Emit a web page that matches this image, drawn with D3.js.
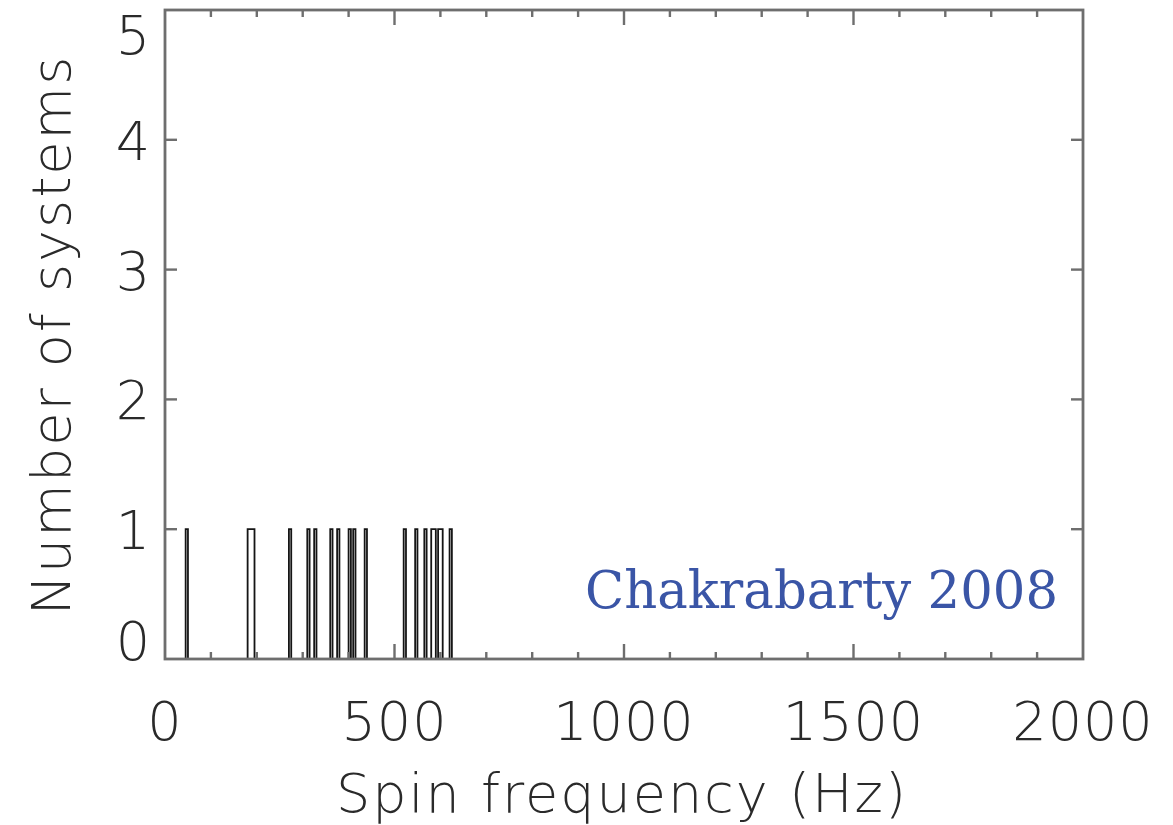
<!DOCTYPE html>
<html>
<head>
<meta charset="utf-8">
<script src="https://cdn.jsdelivr.net/npm/d3@7"></script>
<style>
  html, body { margin: 0; padding: 0; background: #fff; }
  svg { display: block; }
</style>
</head>
<body>
<svg id="chart" width="1173" height="825"></svg>
<script>
// Spin frequencies (Hz) of the known accreting neutron stars, one entry per system
const spinFreqs = [45, 182, 185, 191, 270, 314, 329, 363, 377, 401, 410, 435,
                   520, 549, 567, 581, 589, 598, 601, 620];
const binWidth = 5;
const xTicks = [0, 500, 1000, 1500, 2000];
const xMinorTicks = d3.range(0, 2001, 100);
const yTicks = [0, 1, 2, 3, 4, 5];
const xTitle = "Spin frequency (Hz)";
const yTitle = "Number of systems";
const credit = "Chakrabarty 2008";

const svg = d3.select("#chart");
const plotLeft = 165, plotRight = 1083, plotTop = 10, plotBottom = 659;

const x = d3.scaleLinear().domain([0, 2000]).range([plotLeft, plotRight]);
const y = d3.scaleLinear().domain([0, 5]).range([plotBottom, plotTop]);

const labelFont = "'DejaVu Sans', sans-serif";
const axisColor = "#6e6e6e";
const textColor = "#2a2a2a";

// Histogram with narrow bins, drawn as a stepped outline
const bins = d3.bin()
  .domain(x.domain())
  .thresholds(d3.range(0, 2000, binWidth))(spinFreqs);

const pts = [[bins[0].x0, 0]];
bins.forEach(b => {
  pts.push([b.x0, b.length]);
  pts.push([b.x1, b.length]);
});
pts.push([bins[bins.length - 1].x1, 0]);

svg.append("path")
  .attr("d", d3.line().x(d => x(d[0])).y(d => y(d[1]))(pts))
  .attr("fill", "none")
  .attr("stroke", "#151515")
  .attr("stroke-width", 1.8);

// Frame
svg.append("rect")
  .attr("x", plotLeft).attr("y", plotTop)
  .attr("width", plotRight - plotLeft).attr("height", plotBottom - plotTop)
  .attr("fill", "none")
  .attr("stroke", axisColor)
  .attr("stroke-width", 2.8);

// Ticks on all four sides, pointing inward
const tickG = svg.append("g").attr("stroke", axisColor).attr("stroke-width", 2.4);
xMinorTicks.forEach(v => {
  if (v === 0 || v === 2000) return;
  const len = v % 500 === 0 ? 15 : 7;
  tickG.append("line").attr("x1", x(v)).attr("x2", x(v)).attr("y1", plotBottom).attr("y2", plotBottom - len);
  tickG.append("line").attr("x1", x(v)).attr("x2", x(v)).attr("y1", plotTop).attr("y2", plotTop + len);
});
yTicks.forEach(v => {
  if (v === 0 || v === 5) return;
  tickG.append("line").attr("x1", plotLeft).attr("x2", plotLeft + 12).attr("y1", y(v)).attr("y2", y(v));
  tickG.append("line").attr("x1", plotRight).attr("x2", plotRight - 12).attr("y1", y(v)).attr("y2", y(v));
});

// Tick labels
svg.append("g").selectAll("text").data(xTicks).join("text")
  .attr("x", d => x(d))
  .attr("y", 740)
  .attr("text-anchor", "middle")
  .attr("font-family", labelFont)
  .attr("font-weight", 200)
  .attr("font-size", 54)
  .attr("letter-spacing", 1)
  .attr("fill", textColor)
  .text(d => d);

// End labels are kept inside the frame's vertical extent
svg.append("g").selectAll("text").data(yTicks).join("text")
  .attr("x", 150)
  .attr("y", d => Math.min(Math.max(y(d), plotTop + 24), plotBottom - 19) + 20)
  .attr("text-anchor", "end")
  .attr("font-family", labelFont)
  .attr("font-weight", 200)
  .attr("font-size", 54)
  .attr("fill", textColor)
  .text(d => d);

// Axis titles
svg.append("text")
  .attr("x", 622).attr("y", 812)
  .attr("text-anchor", "middle")
  .attr("font-family", labelFont)
  .attr("font-weight", 200)
  .attr("font-size", 54)
  .attr("letter-spacing", 2)
  .attr("fill", textColor)
  .text(xTitle);

svg.append("text")
  .attr("transform", "translate(70,335) rotate(-90)")
  .attr("text-anchor", "middle")
  .attr("font-family", labelFont)
  .attr("font-weight", 200)
  .attr("font-size", 54)
  .attr("letter-spacing", 2)
  .attr("fill", textColor)
  .text(yTitle);

// Credit line
svg.append("text")
  .attr("x", 1058).attr("y", 608)
  .attr("text-anchor", "end")
  .attr("font-family", "'DejaVu Serif', serif")
  .attr("font-size", 52)
  .attr("textLength", 473)
  .attr("lengthAdjust", "spacingAndGlyphs")
  .attr("fill", "#3a55a6")
  .text(credit);
</script>
</body>
</html>
